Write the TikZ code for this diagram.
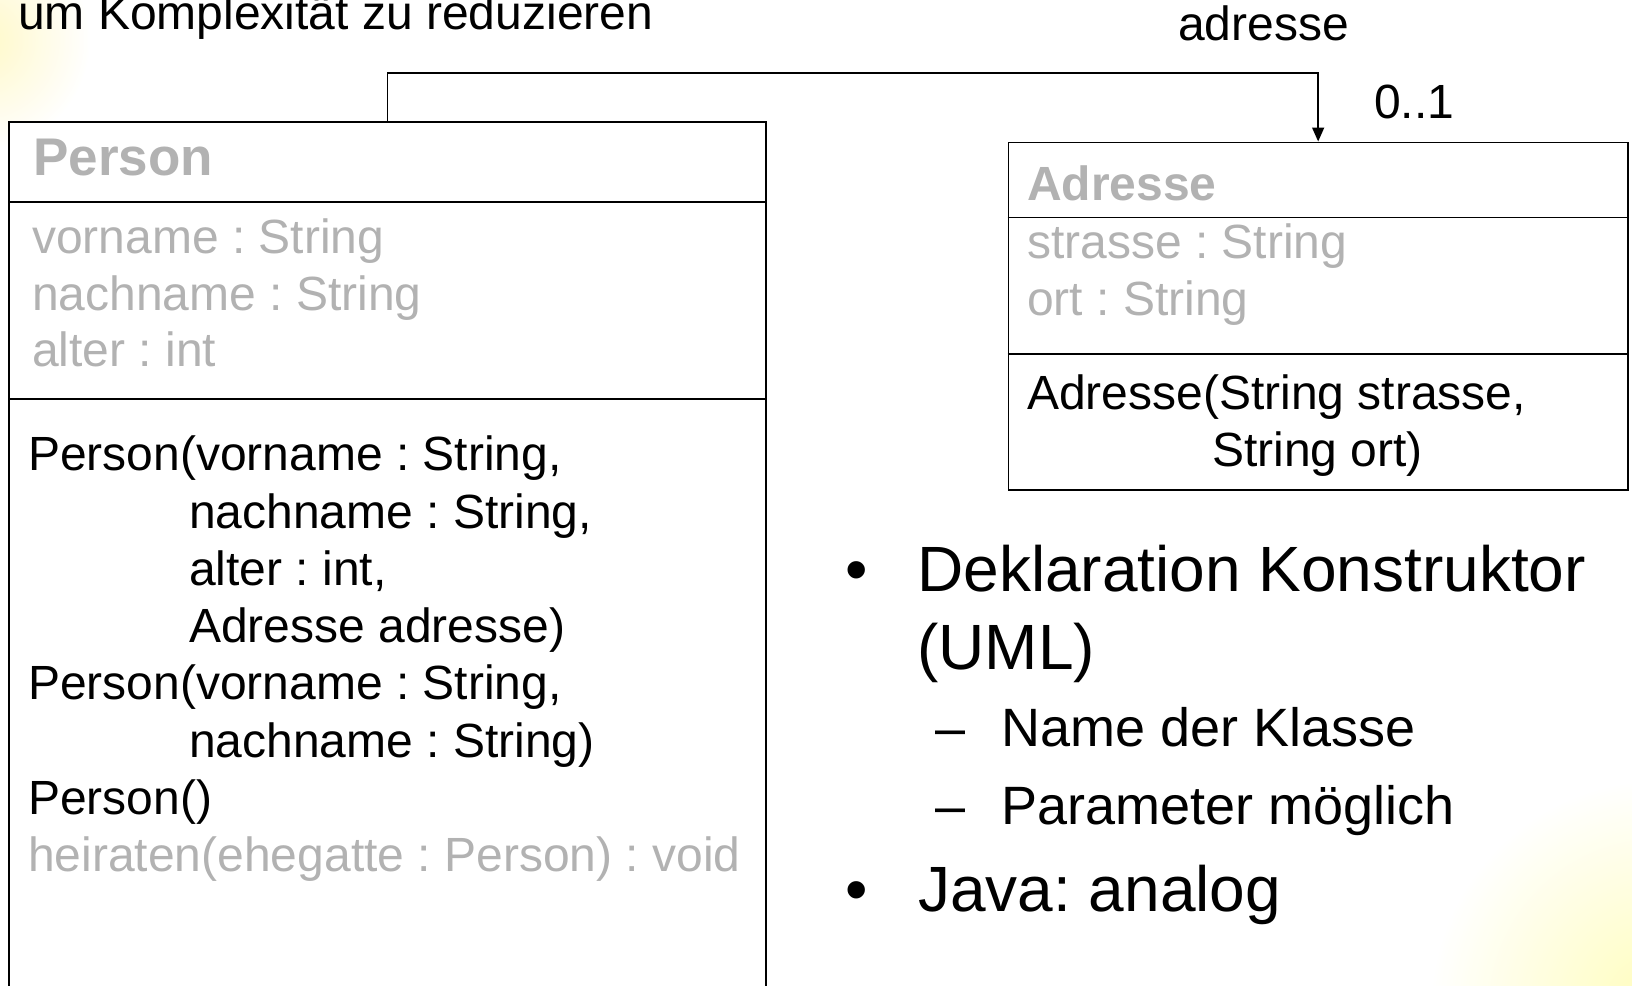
\documentclass[tikz,border=0pt]{standalone}
\usepackage{fontspec}
\setmainfont{Liberation Sans}
\usetikzlibrary{arrows.meta}
\definecolor{grayt}{RGB}{178,178,178}
\definecolor{glow}{RGB}{255,246,175}
\definecolor{glowb}{RGB}{255,253,170}
\begin{document}
\frenchspacing
\begin{tikzpicture}[x=1pt,y=-1pt,
  box/.style={draw=black,line width=1.8pt,anchor=north west,inner sep=0pt,fill=white},
  sep/.style={line width=1.8pt},
  assoc/.style={line width=1.6pt,-{Triangle[width=12pt,length=14pt]}},
  txt/.style={anchor=base west,inner sep=0pt,font=\fontsize{48}{57}\selectfont},
  gtxt/.style={txt,text=grayt},
  ttl/.style={gtxt,font=\fontsize{48}{57}\selectfont\bfseries},
  big/.style={anchor=base west,inner sep=0pt,font=\fontsize{64}{75}\selectfont},
  mid/.style={anchor=base west,inner sep=0pt,font=\fontsize{54}{64}\selectfont}
]
\useasboundingbox (0,0) rectangle (1632,985);
\clip (0,0) rectangle (1632,985);
\fill[white] (0,0) rectangle (1632,985);
% background glows
\shade[inner color=glow, outer color=white, opacity=0.7] (-20,40) circle (110);
\shade[inner color=glowb, outer color=white, opacity=0.8] (1660,1010) circle (230);

% top text
\node[txt] (top) at (18,29) {um Komplexität zu reduzieren};

% Person class
\node[box, minimum width=757pt, minimum height=900pt] (person) at (8,121) {};
\draw[sep] (person.west |- 0,202) coordinate (ps1) -- (person.east |- 0,202) coordinate (ps1e);
\draw[sep] (person.west |- 0,399) coordinate (ps2) -- (person.east |- 0,399) coordinate (ps2e);
\node[ttl,font=\fontsize{53}{60}\selectfont\bfseries] (ptitle) at (33,175) {Person};
\node[gtxt] (pa1) at (32,253) {vorname : String};
\node[gtxt] (pa2) at (32,310) {nachname : String};
\node[gtxt] (pa3) at (32,366) {alter : int};
\node[txt] (pm1) at (28,470) {Person(vorname : String,};
\node[txt] (pm2) at (189,528) {nachname : String,};
\node[txt] (pm3) at (189,585) {alter : int,};
\node[txt] (pm4) at (189,642) {Adresse adresse)};
\node[txt] (pm5) at (28,699) {Person(vorname : String,};
\node[txt] (pm6) at (189,757) {nachname : String)};
\node[txt] (pm7) at (28,814) {Person()};
\node[gtxt] (pm8) at (28,871) {heiraten(ehegatte : Person) : void};

% Adresse class
\node[box, minimum width=619.5pt, minimum height=347.5pt] (adr) at (1007.5,141.5) {};
\draw[sep] (adr.west |- 0,217.5) -- (adr.east |- 0,217.5);
\draw[sep] (adr.west |- 0,354) -- (adr.east |- 0,354);
\node[ttl] (atitle) at (1027,200) {Adresse};
\node[gtxt] (aa1) at (1027,258) {strasse : String};
\node[gtxt] (aa2) at (1027,315) {ort : String};
\node[txt] (am1) at (1027,409) {Adresse(String strasse,};
\node[txt] (am2) at (1212,466) {String ort)};

% association
\draw[assoc] (person.north) -- ++(0,-48) coordinate (bend) -| (adr.north);
\node[txt] (role) at (1178,40) {adresse};
\node[txt] (mult) at (1374,118) {0..1};

% bullet list
\node[big] (b1) at (845,591) {•};
\node[big] (t1) at (917,591) {Deklaration Konstruktor};
\node[big] (t1b) at (917,669) {(UML)};
\node[mid] (d1) at (935,746) {–};
\node[mid] (s1) at (1001,746) {Name der Klasse};
\node[mid] (d2) at (935,824) {–};
\node[mid] (s2) at (1001,824) {Parameter möglich};
\node[big] (b2) at (845,911) {•};
\node[big] (t2) at (918,911) {Java: analog};
\end{tikzpicture}
\end{document}
